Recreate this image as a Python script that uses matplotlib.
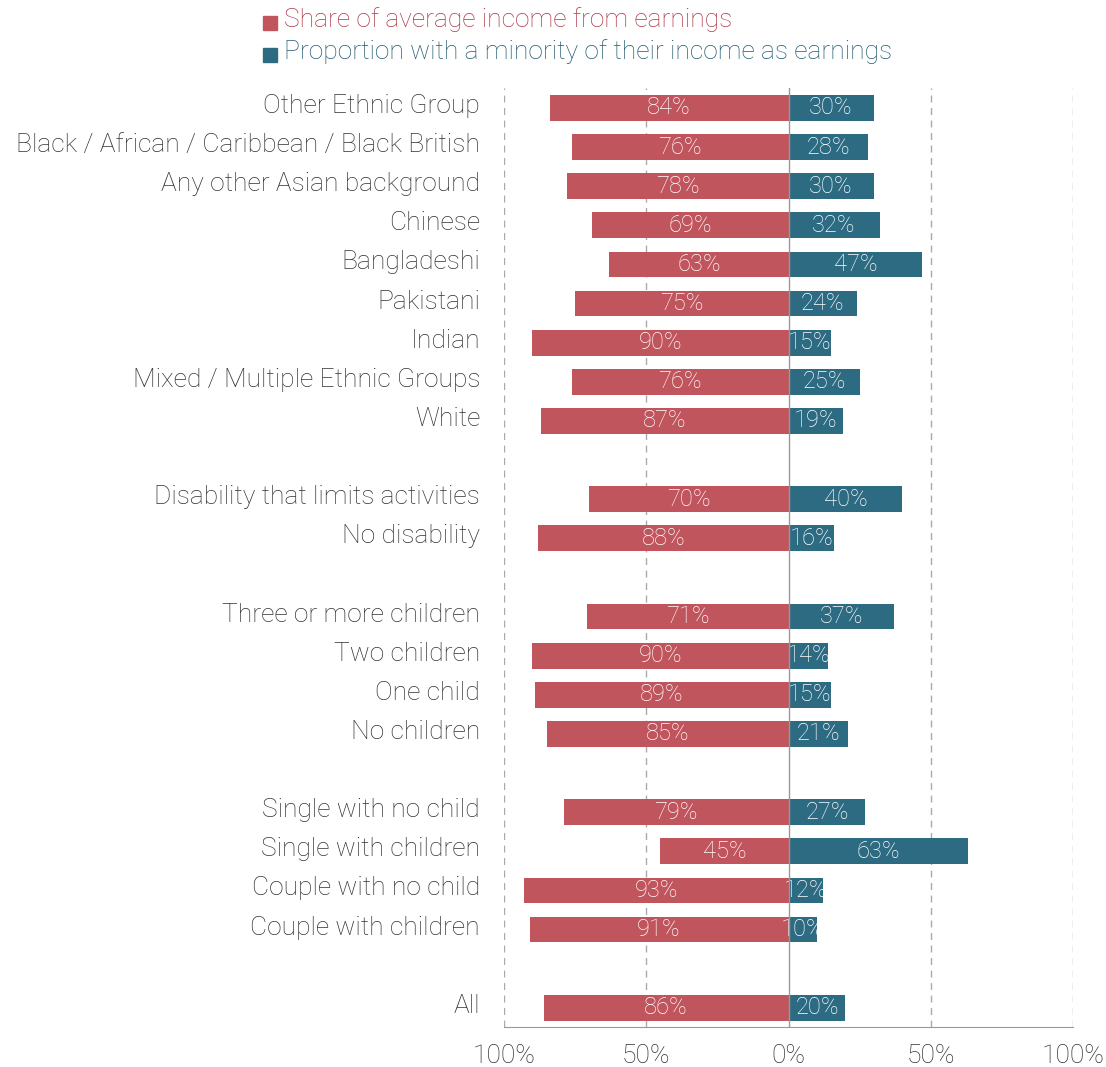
import matplotlib.pyplot as plt

# row labels top to bottom, None = spacer slot
labels = ['Other Ethnic Group', 'Black / African / Caribbean / Black British',
          'Any other Asian background', 'Chinese', 'Bangladeshi', 'Pakistani',
          'Indian', 'Mixed / Multiple Ethnic Groups', 'White', None,
          'Disability that limits activities', 'No disability', None,
          'Three or more children', 'Two children', 'One child', 'No children', None,
          'Single with no child', 'Single with children', 'Couple with no child',
          'Couple with children', None, 'All']
earnings_share = [84, 76, 78, 69, 63, 75, 90, 76, 87, None, 70, 88, None,
                  71, 90, 89, 85, None, 79, 45, 93, 91, None, 86]
minority_share = [30, 28, 30, 32, 47, 24, 15, 25, 19, None, 40, 16, None,
                  37, 14, 15, 21, None, 27, 63, 12, 10, None, 20]
tick_vals = [-100, -50, 0, 50, 100]
tick_labels = ['100%', '50%', '0%', '50%', '100%']

RED = '#c0555d'
TEAL = '#2d6b83'
RED_TXT = '#ad3a46'
TEAL_TXT = '#235c72'
GREY = '#333333'

plt.rcParams['font.family'] = ['Roboto', 'DejaVu Sans']
plt.rcParams['font.weight'] = 'light'

fig = plt.figure(figsize=(11.06, 10.67), dpi=100)
ax = fig.add_axes([504 / 1106, 1 - 1027 / 1067, 569 / 1106, 939 / 1067])

for i, (lab, e, m) in enumerate(zip(labels, earnings_share, minority_share)):
    if lab is None:
        continue
    ax.barh(i, -e, height=0.66, color=RED, zorder=3)
    ax.barh(i, m, height=0.66, color=TEAL, zorder=3)
    # value labels centred inside each bar
    ax.text(-e / 2, i, f'{e}%', ha='center', va='center', color='white',
            fontsize=17, zorder=4)
    ax.text(m / 2, i, f'{m}%', ha='center', va='center', color='white',
            fontsize=17, zorder=4)
    ax.text(-108.4, i - 0.05, lab, ha='right', va='center', color=GREY, fontsize=19)

for v in [-100, -50, 50, 100]:
    ax.axvline(v, color='#aaaaaa', linestyle=(0, (5, 4)), linewidth=1, zorder=1)
ax.axvline(0, color='#999999', linewidth=1, zorder=5)

ax.set_xlim(-100, 100)
ax.set_ylim(len(labels) - 1 + 0.49, -0.51)
ax.set_xticks(tick_vals)
ax.set_xticklabels(tick_labels, fontsize=19, color=GREY)
ax.tick_params(axis='x', length=0, pad=12)
ax.set_yticks([])
for s in ['top', 'left', 'right']:
    ax.spines[s].set_visible(False)
ax.spines['bottom'].set_color('#999999')

# legend: coloured squares + coloured text
fig.patches.append(plt.Rectangle((263 / 1106, 1 - 30 / 1067), 14 / 1106, 14 / 1067,
                                 color=RED, transform=fig.transFigure))
fig.text(284 / 1106, 1 - 20 / 1067, 'Share of average income from earnings',
         color=RED_TXT, fontsize=19, va='center')
fig.patches.append(plt.Rectangle((263 / 1106, 1 - 62 / 1067), 14 / 1106, 14 / 1067,
                                 color=TEAL, transform=fig.transFigure))
fig.text(284 / 1106, 1 - 52 / 1067, 'Proportion with a minority of their income as earnings',
         color=TEAL_TXT, fontsize=19, va='center')

fig.savefig('out.png', dpi=100)
